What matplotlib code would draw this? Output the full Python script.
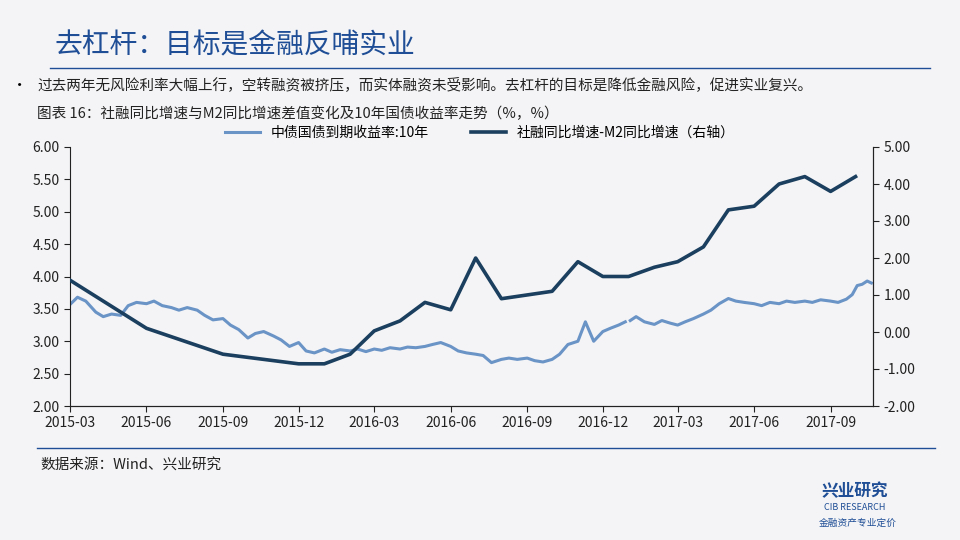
import matplotlib
matplotlib.use("Agg")
import matplotlib.pyplot as plt
import pandas as pd

plt.rcParams["font.family"] = ["Noto Sans CJK SC", "DejaVu Sans"]

yield_dates = ["2015-03-02","2015-03-10","2015-03-20","2015-04-01","2015-04-10","2015-04-20","2015-05-01","2015-05-10","2015-05-20","2015-06-01","2015-06-10","2015-06-20","2015-07-01","2015-07-10","2015-07-20","2015-08-01","2015-08-10","2015-08-20","2015-09-01","2015-09-10","2015-09-20","2015-10-01","2015-10-10","2015-10-20","2015-11-01","2015-11-10","2015-11-20","2015-12-01","2015-12-10","2015-12-20","2016-01-01","2016-01-10","2016-01-20","2016-02-01","2016-02-10","2016-02-20","2016-03-01","2016-03-10","2016-03-20","2016-04-01","2016-04-10","2016-04-20","2016-05-01","2016-05-10","2016-05-20","2016-06-01","2016-06-10","2016-06-20","2016-07-01","2016-07-10","2016-07-20","2016-08-01","2016-08-10","2016-08-20","2016-09-01","2016-09-10","2016-09-20","2016-10-01","2016-10-10","2016-10-20","2016-11-01","2016-11-10","2016-11-20","2016-12-01","2016-12-10","2016-12-20","2016-12-28"]
yield_vals = [3.58,3.68,3.62,3.45,3.38,3.42,3.40,3.55,3.60,3.58,3.62,3.55,3.52,3.48,3.52,3.48,3.40,3.33,3.35,3.25,3.18,3.05,3.12,3.15,3.08,3.02,2.92,2.98,2.85,2.82,2.88,2.83,2.87,2.85,2.88,2.84,2.88,2.86,2.90,2.88,2.91,2.90,2.92,2.95,2.98,2.92,2.85,2.82,2.80,2.78,2.67,2.72,2.74,2.72,2.74,2.70,2.68,2.72,2.80,2.95,3.00,3.30,3.00,3.15,3.20,3.25,3.30]
yield_dates2 = ["2017-01-03","2017-01-10","2017-01-20","2017-02-01","2017-02-10","2017-02-20","2017-03-01","2017-03-10","2017-03-20","2017-04-01","2017-04-10","2017-04-20","2017-05-01","2017-05-10","2017-05-20","2017-06-01","2017-06-10","2017-06-20","2017-07-01","2017-07-10","2017-07-20","2017-08-01","2017-08-10","2017-08-20","2017-09-01","2017-09-10","2017-09-20","2017-09-27","2017-10-03","2017-10-09","2017-10-15","2017-10-20"]
yield_vals2 = [3.32,3.38,3.30,3.26,3.32,3.28,3.25,3.30,3.35,3.42,3.48,3.58,3.66,3.62,3.60,3.58,3.55,3.60,3.58,3.62,3.60,3.62,3.60,3.64,3.62,3.60,3.65,3.72,3.86,3.88,3.93,3.90]

spread_dates = ["2015-03","2015-06","2015-09","2015-12","2016-01","2016-02","2016-03","2016-04","2016-05","2016-06","2016-07","2016-08","2016-10","2016-11","2016-12","2017-01","2017-02","2017-03","2017-04","2017-05","2017-06","2017-07","2017-08","2017-09","2017-10"]
spread_vals = [1.4,0.1,-0.6,-0.86,-0.86,-0.6,0.03,0.3,0.8,0.6,2.0,0.9,1.1,1.9,1.5,1.5,1.75,1.9,2.3,3.3,3.4,4.0,4.2,3.8,4.2]

left_ticks = [2.0,2.5,3.0,3.5,4.0,4.5,5.0,5.5,6.0]
right_ticks = [-2,-1,0,1,2,3,4,5]
x_ticks = ["2015-03","2015-06","2015-09","2015-12","2016-03","2016-06","2016-09","2016-12","2017-03","2017-06","2017-09"]

bg = "#f4f4f6"
fig = plt.figure(figsize=(9.6,5.4), dpi=100, facecolor=bg)
ax = fig.add_axes([70/960, 1-406/540, 803/960, 259/540], facecolor=bg)
ax2 = ax.twinx()

lc = "#6a93c6"; dc = "#1b3f5e"
l1, = ax.plot(pd.to_datetime(yield_dates), yield_vals, color=lc, lw=2.2)
ax.plot(pd.to_datetime(yield_dates2), yield_vals2, color=lc, lw=2.2)
l2, = ax2.plot(pd.to_datetime(spread_dates), spread_vals, color=dc, lw=2.6)

ax.set_xlim(pd.Timestamp("2015-03-01"), pd.Timestamp("2017-10-22"))
ax.set_ylim(2,6); ax2.set_ylim(-2,5)
ax.set_yticks(left_ticks); ax.set_yticklabels([f"{v:.2f}" for v in left_ticks])
ax2.set_yticks(right_ticks); ax2.set_yticklabels([f"{v:.2f}" for v in right_ticks])
ax.set_xticks(pd.to_datetime(x_ticks)); ax.set_xticklabels(x_ticks)
for a in (ax, ax2):
    a.tick_params(labelsize=10, colors="#222", direction="out", length=4)
    a.spines["top"].set_visible(False)
    for s in a.spines.values(): s.set_color("#222")
ax2.spines["left"].set_visible(False)

fig.legend([l1,l2], ["中债国债到期收益率:10年","社融同比增速-M2同比增速（右轴）"], loc="center",
           bbox_to_anchor=(0.5, 1-133/540), ncol=2, frameon=False, fontsize=10, columnspacing=3, handlelength=2.5)

fig.text(55/960, 1-45/540, "去杠杆：目标是金融反哺实业", fontsize=20, color="#1f4e96", va="center")
fig.add_artist(plt.Line2D([50/960, 930/960], [1-68/540]*2, color="#1f4e96", lw=1))
fig.text(12/960, 1-85/540, "•", fontsize=11, va="center")
fig.text(37/960, 1-85/540, "过去两年无风险利率大幅上行，空转融资被挤压，而实体融资未受影响。去杠杆的目标是降低金融风险，促进实业复兴。", fontsize=10.5, va="center", color="#222")
fig.text(37/960, 1-114/540, "图表 16：社融同比增速与M2同比增速差值变化及10年国债收益率走势（%，%）", fontsize=10.5, va="center", color="#222")
fig.add_artist(plt.Line2D([37/960, 935/960], [1-448/540]*2, color="#1f4e96", lw=1))
fig.text(40/960, 1-465/540, "数据来源：Wind、兴业研究", fontsize=10.5, va="center", color="#222")
fig.text(855/960, 1-491/540, "兴业研究", fontsize=12, color="#1f4e96", va="center", ha="center", weight="bold")
fig.text(855/960, 1-507/540, "CIB RESEARCH", fontsize=6.5, color="#1f4e96", va="center", ha="center")
fig.text(858/960, 1-523/540, "金融资产专业定价", fontsize=7, color="#1f4e96", va="center", ha="center")
fig.savefig("out.png", dpi=100, facecolor=bg)
